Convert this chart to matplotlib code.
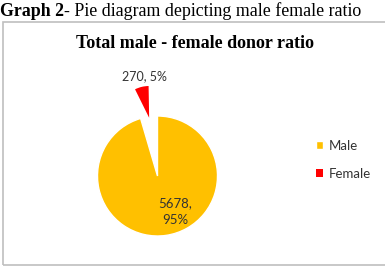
import matplotlib
matplotlib.use("Agg")
import matplotlib.pyplot as plt
from matplotlib.patches import Rectangle

categories = ["Male", "Female"]
values = [5678, 270]
colors = ["#FFC000", "#FF0000"]
caption_bold = "Graph 2"
caption_rest = "- Pie diagram depicting male female ratio"
title = "Total male - female donor ratio"

W, H = 385, 269
fig = plt.figure(figsize=(W / 100, H / 100), dpi=100)
fig.patch.set_facecolor("white")

def fx(px):
    return px / W

def fy(py):
    return 1 - py / H

# chart border (right edge lies outside the crop)
fig.add_artist(Rectangle((fx(2.5), fy(265)), fx(390) - fx(2.5), fy(22) - fy(265),
                         transform=fig.transFigure, fill=False, edgecolor="#bfbfbf", lw=1.2))

# caption
t1 = fig.text(fx(0), fy(11), caption_bold, family="Liberation Serif", weight="bold",
              fontsize=12.9, va="center", ha="left")
fig.canvas.draw()
bb = t1.get_window_extent()
fig.text(bb.x1 / W, fy(11), caption_rest, family="Liberation Serif", fontsize=12.9,
         va="center", ha="left")

# title
fig.text(fx(195), fy(43), title, family="Liberation Serif", weight="bold",
         fontsize=13, va="center", ha="center")

# pie axes: center (157.5,176) px, radius 60 px
cx, cy, r = 157.5, 176, 60
ax = fig.add_axes([fx(cx - 100), fy(cy + 90), 200 / W, 180 / H])
wedges, _ = ax.pie(values, colors=colors, startangle=90, counterclock=False,
                   explode=[0, 0.98], radius=1,
                   wedgeprops=dict(edgecolor="white", linewidth=1))
for w in wedges:
    w.set_clip_on(False)
# the exploded slice is drawn short and wide, as in the reference rendering
fw = wedges[1]
fw.set_radius(0.53)
fw.set_theta1(fw.theta1 + 1)
fw.set_theta2(fw.theta2 + 10)
fw.set_edgecolor("none")
ax.set_xlim(-100 / r, 100 / r)
ax.set_ylim(-90 / r, 90 / r)
ax.set_axis_off()

total = sum(values)
pcts = [round(v / total * 100) for v in values]
ax.text(-0.21, 1.67, f"{values[1]}, {pcts[1]}%", family="Lato", fontsize=9,
        ha="center", va="center", color="#333333", clip_on=False)
ax.text(0.29, -0.6, f"{values[0]},\n{pcts[0]}%", family="Lato", fontsize=9.5,
        ha="center", va="center", color="#333333", linespacing=1.5, clip_on=False)

leg = fig.legend(wedges, categories, loc="upper left",
                 bbox_to_anchor=(fx(316), fy(140)), frameon=False,
                 prop=dict(family="Lato", size=9.5), handlelength=0.55,
                 handleheight=0.55, handletextpad=0.4, labelspacing=1.2,
                 borderpad=0, borderaxespad=0)
for t in leg.get_texts():
    t.set_color("#333333")

fig.savefig("out.png", dpi=100)
